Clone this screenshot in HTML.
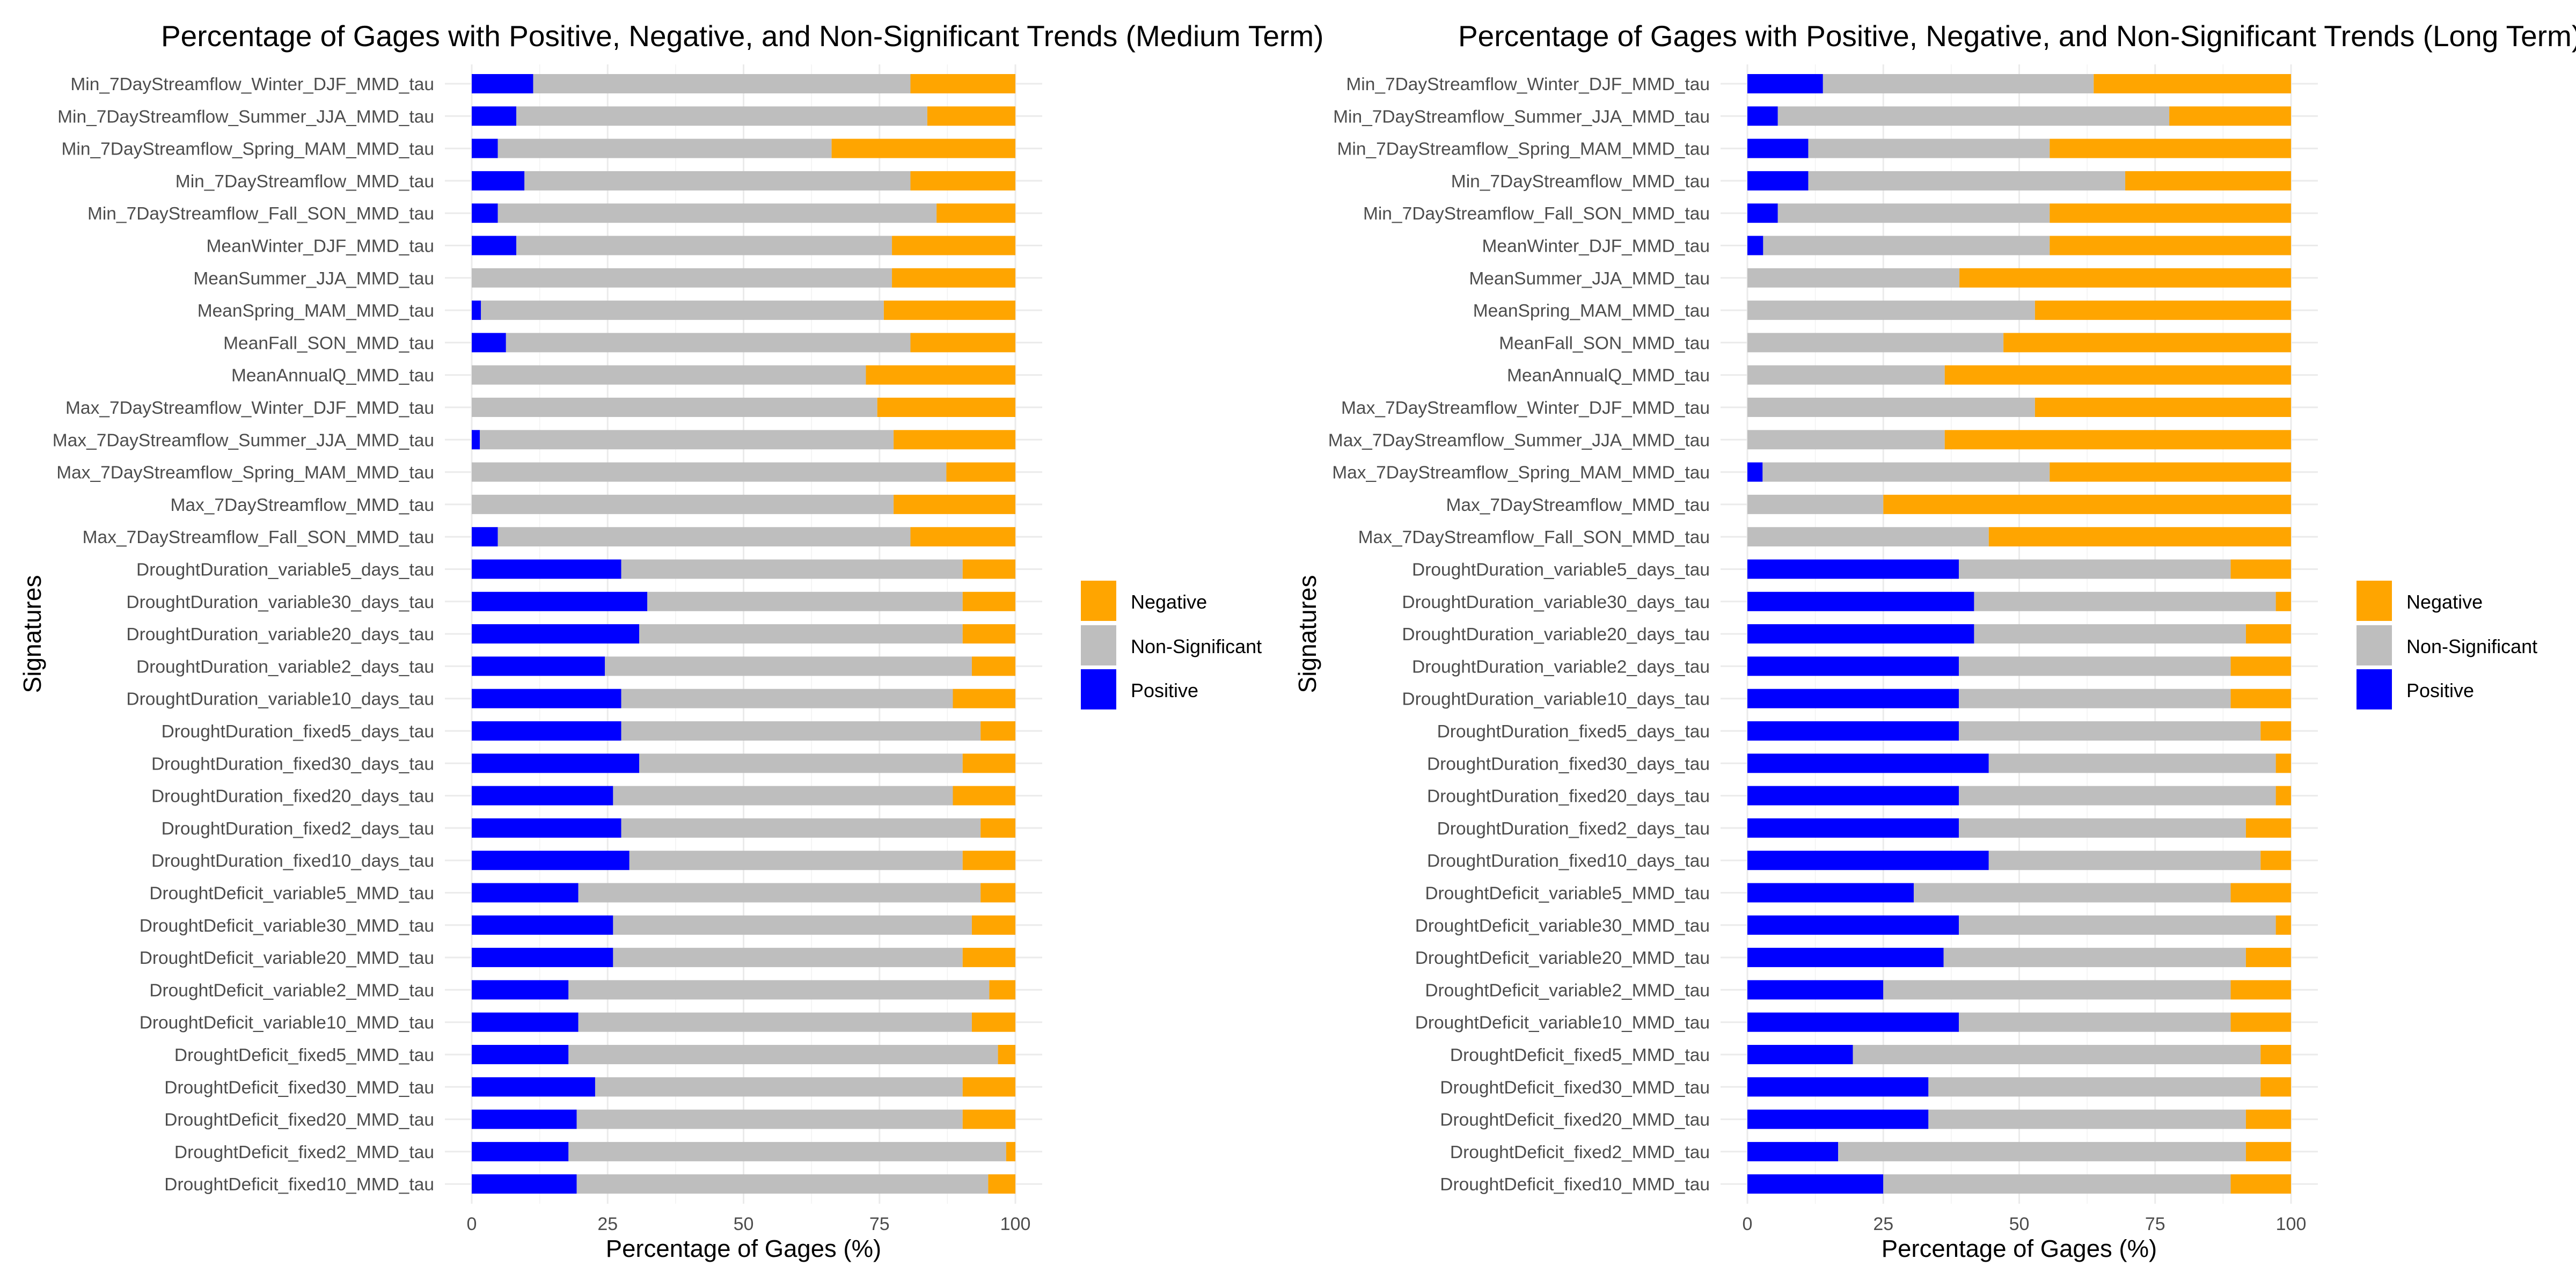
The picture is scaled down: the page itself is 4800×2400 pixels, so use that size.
<!DOCTYPE html>
<html><head><meta charset="utf-8"><style>
html,body{margin:0;padding:0;background:#fff;}
svg{display:block;font-family:"Liberation Sans",Arial,sans-serif;}
</style></head><body>
<svg id="chart" width="4800" height="2400" viewBox="0 0 4800 2400" xmlns="http://www.w3.org/2000/svg"></svg>
<script>
const categories = ["Min_7DayStreamflow_Winter_DJF_MMD_tau","Min_7DayStreamflow_Summer_JJA_MMD_tau","Min_7DayStreamflow_Spring_MAM_MMD_tau","Min_7DayStreamflow_MMD_tau","Min_7DayStreamflow_Fall_SON_MMD_tau","MeanWinter_DJF_MMD_tau","MeanSummer_JJA_MMD_tau","MeanSpring_MAM_MMD_tau","MeanFall_SON_MMD_tau","MeanAnnualQ_MMD_tau","Max_7DayStreamflow_Winter_DJF_MMD_tau","Max_7DayStreamflow_Summer_JJA_MMD_tau","Max_7DayStreamflow_Spring_MAM_MMD_tau","Max_7DayStreamflow_MMD_tau","Max_7DayStreamflow_Fall_SON_MMD_tau","DroughtDuration_variable5_days_tau","DroughtDuration_variable30_days_tau","DroughtDuration_variable20_days_tau","DroughtDuration_variable2_days_tau","DroughtDuration_variable10_days_tau","DroughtDuration_fixed5_days_tau","DroughtDuration_fixed30_days_tau","DroughtDuration_fixed20_days_tau","DroughtDuration_fixed2_days_tau","DroughtDuration_fixed10_days_tau","DroughtDeficit_variable5_MMD_tau","DroughtDeficit_variable30_MMD_tau","DroughtDeficit_variable20_MMD_tau","DroughtDeficit_variable2_MMD_tau","DroughtDeficit_variable10_MMD_tau","DroughtDeficit_fixed5_MMD_tau","DroughtDeficit_fixed30_MMD_tau","DroughtDeficit_fixed20_MMD_tau","DroughtDeficit_fixed2_MMD_tau","DroughtDeficit_fixed10_MMD_tau"];
// Medium term
const mediumPositive = [11.3,8.2,4.8,9.7,4.8,8.2,0,1.7,6.3,0,0,1.5,0,0,4.8,27.5,32.3,30.8,24.5,27.5,27.5,30.8,26,27.5,29,19.6,26,26,17.8,19.6,17.8,22.7,19.3,17.8,19.3];
const mediumNonSig = [69.4,75.6,61.4,71.0,80.7,69.1,77.3,74.1,74.4,72.5,74.6,76.1,87.3,77.6,75.9,62.8,58.0,59.5,67.5,61.0,66.1,59.5,62.5,66.1,61.3,74.0,66.0,64.3,77.4,72.4,79.0,67.6,71.0,80.5,75.7];
// Long term
const longPositive = [13.9,5.6,11.2,11.2,5.6,2.9,0,0,0,0,0,0,2.8,0,0,38.9,41.7,41.7,38.9,38.9,38.9,44.4,38.9,38.9,44.4,30.6,38.9,36.1,25,38.9,19.4,33.3,33.3,16.7,25];
const longNonSig = [49.8,72.0,44.4,58.3,50.0,52.7,39,52.9,47.1,36.3,52.9,36.3,52.8,25,44.4,50.0,55.5,50.0,50.0,50.0,55.5,52.8,58.3,52.8,50.0,58.3,58.3,55.6,63.9,50.0,75.0,61.1,58.4,75.0,63.9];
const xTicks = [0,25,50,75,100];
const xTickLabels = ["0","25","50","75","100"];
const legendLabels = ["Negative","Non-Significant","Positive"];
const COLORS = {pos:"#0000ff", ns:"#bebebe", neg:"#ffa500"};

const svg = document.getElementById('chart');
const NS = "http://www.w3.org/2000/svg";
function mk(tag, attrs, parent){ const e=document.createElementNS(NS,tag); for(const k in attrs) e.setAttribute(k,attrs[k]); (parent||svg).appendChild(e); return e; }

function panel(cfg){
  const g = mk('g',{});
  
  
  const x0=cfg.x0, x100=cfg.x100, top=120, bottom=2243, y0=156, step=60.3, bh=36;
  const left=x0-50, right=x100+50;
  const xs = v => x0 + (x100-x0)*v/100;
  const ys = i => y0 + i*step;
  [12.5,37.5,62.5,87.5].forEach(v=>{ const l=mk('line',{x1:xs(v),x2:xs(v),y1:top,y2:bottom,stroke:'#f2f2f2','stroke-width':1.5},g);
      });
  xTicks.forEach(v=>{ const l=mk('line',{x1:xs(v),x2:xs(v),y1:top,y2:bottom,stroke:'#ebebeb','stroke-width':3},g);
      });
  categories.forEach((c,i)=>{ const l=mk('line',{x1:left,x2:right,y1:ys(i),y2:ys(i),stroke:'#ebebeb','stroke-width':3},g);
      });
  categories.forEach((c,i)=>{
    const p=cfg.pos[i], n=cfg.ns[i], ng=Math.max(0,100-p-n);
    const segs=[[0,p,COLORS.pos,'bar-positive'],[p,p+n,COLORS.ns,'bar-non-significant'],[p+n,p+n+ng,COLORS.neg,'bar-negative']];
    segs.forEach(s=>{ if(s[1]-s[0]<=0) return;
      const r=mk('rect',{x:xs(s[0]),y:ys(i)-bh/2,width:xs(s[1])-xs(s[0]),height:bh,fill:s[2]},g);
      
       });
    const t=mk('text',{x:x0-70,y:ys(i)+12,'text-anchor':'end','font-size':33.5,fill:'#4d4d4d'},g);
    t.textContent=c;
    
    
  });
  xTicks.forEach((v,i)=>{ const t=mk('text',{x:xs(v),y:2292,'text-anchor':'middle','font-size':34,fill:'#4d4d4d'},g);
    t.textContent=xTickLabels[i];
    
     });
  const xt=mk('text',{x:(left+right)/2,y:2342,'text-anchor':'middle','font-size':45.5,fill:'#000'},g);
  xt.textContent='Percentage of Gages (%)';
  
  
  const yt=mk('text',{x:0,y:0,'text-anchor':'middle','font-size':46,fill:'#000',transform:`translate(${cfg.ytx},${(top+bottom)/2}) rotate(-90)`},g);
  yt.textContent='Signatures';
  
  
  const tt=mk('text',{x:cfg.titleX,y:86,'font-size':55,fill:'#000'},g);
  tt.textContent=cfg.title;
  
  
  const lx=right+72, cols=[COLORS.neg,COLORS.ns,COLORS.pos], ly=[1082,1165,1247];
  legendLabels.forEach((lab,i)=>{
    const r=mk('rect',{x:lx,y:ly[i],width:66,height:75,fill:cols[i]},g);
    
    
    const t=mk('text',{x:lx+93,y:ly[i]+52,'font-size':36,fill:'#000'},g);
    t.textContent=lab;
    
    
  });
}
panel({name:'medium-term-panel',x0:879,x100:1892,pos:mediumPositive,ns:mediumNonSig,ytx:76,titleX:300,
  title:'Percentage of Gages with Positive, Negative, and Non-Significant Trends (Medium Term)'});
panel({name:'long-term-panel',x0:3256,x100:4269,pos:longPositive,ns:longNonSig,ytx:2452,titleX:2717,
  title:'Percentage of Gages with Positive, Negative, and Non-Significant Trends (Long Term)'});
</script>
</body></html>
